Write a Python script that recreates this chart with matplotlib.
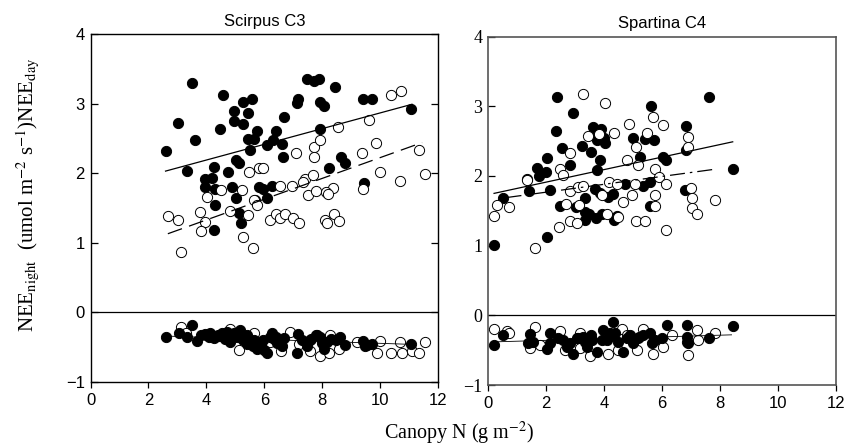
import numpy as np
import matplotlib
matplotlib.use("Agg")
import matplotlib.pyplot as plt

plt.rcParams['mathtext.fontset'] = 'stix'

# Scirpus C3 - daytime NEE (closed = filled circles, open = open circles)
sc_day_closed_x = [3.51, 3.03, 2.59, 3.34, 3.62, 4.57, 4.46, 4.97, 4.97, 5.27, 5.27, 5.59, 5.45, 5.75, 5.43,
                   5.64, 5.50, 6.10, 6.31, 6.42, 6.62, 6.67, 6.63, 7.13, 7.17, 7.46, 7.73, 7.89, 8.43, 7.92,
                   8.05, 7.92, 9.41, 9.72, 11.07, 8.65, 8.77, 8.23, 9.44, 5.02, 5.13, 4.26, 4.74, 3.94, 4.21,
                   3.96, 4.30, 4.89, 5.04, 4.30, 5.11, 5.18, 4.28, 5.68, 5.82, 5.96, 6.10, 6.28]
sc_day_closed_y = [3.30, 2.72, 2.32, 2.03, 2.48, 3.13, 2.64, 2.89, 2.75, 2.70, 3.02, 3.07, 2.87, 2.61, 2.49,
                   2.49, 2.34, 2.40, 2.48, 2.60, 2.42, 2.81, 2.23, 3.01, 3.06, 3.35, 3.33, 3.36, 3.24, 3.02,
                   2.96, 2.63, 3.07, 3.07, 2.92, 2.23, 2.14, 2.07, 1.86, 2.19, 2.15, 2.09, 2.01, 1.91, 1.93,
                   1.80, 1.77, 1.80, 1.64, 1.54, 1.43, 1.28, 1.19, 1.61, 1.80, 1.77, 1.64, 1.82]
sc_day_open_x = [2.67, 3.01, 3.77, 3.94, 3.80, 4.03, 4.51, 4.83, 5.24, 5.47, 5.81, 5.96, 5.43, 5.64, 5.75,
                 5.27, 5.60, 3.13, 6.19, 6.39, 6.54, 6.54, 6.73, 6.96, 7.00, 7.19, 7.10, 7.42, 7.69, 7.32,
                 7.50, 7.77, 7.73, 7.71, 7.94, 8.38, 8.12, 8.20, 8.11, 8.15, 8.40, 8.57, 8.54, 9.41, 9.38,
                 9.61, 9.87, 9.99, 10.36, 10.72, 10.70, 11.33, 11.56]
sc_day_open_y = [1.39, 1.33, 1.44, 1.30, 1.17, 1.66, 1.76, 1.46, 1.76, 2.02, 2.07, 2.08, 1.40, 1.62, 1.54,
                 1.08, 0.93, 0.87, 1.33, 1.42, 1.81, 1.36, 1.42, 1.81, 1.35, 1.29, 2.29, 1.92, 1.97, 1.87,
                 1.68, 1.74, 2.37, 2.23, 2.48, 1.79, 1.73, 1.70, 1.33, 1.28, 1.41, 1.31, 2.67, 1.78, 2.29,
                 2.76, 2.44, 2.02, 3.12, 3.18, 1.89, 2.33, 1.99]

# Scirpus C3 - nighttime NEE
sc_night_closed_x = [2.62, 3.05, 3.34, 3.51, 3.66, 3.97, 4.1, 4.26, 4.4, 4.55, 4.65, 4.83, 4.95, 5.05, 5.16,
                     5.25, 5.29, 5.4, 5.52, 5.6, 5.75, 5.85, 5.95, 6.10, 6.2, 6.27, 6.35, 6.44, 6.55, 6.67,
                     7.13, 7.16, 7.3, 7.48, 7.6, 7.8, 7.94, 8.06, 8.17, 8.3, 8.63, 8.80, 9.41, 9.55, 9.72, 11.07,
                     3.80, 4.14, 4.43, 4.72, 5.06, 5.41, 5.64, 5.87, 5.98, 6.39, 6.62, 7.59, 7.83, 8.00, 8.46,
                     9.49]
sc_night_closed_y = [-0.35, -0.30, -0.36, -0.18, -0.41, -0.31, -0.35, -0.37, -0.33, -0.30, -0.38, -0.42,
                     -0.30, -0.36, -0.25, -0.40, -0.37, -0.45, -0.44, -0.48, -0.52, -0.46, -0.40, -0.59,
                     -0.35, -0.29, -0.38, -0.44, -0.40, -0.37, -0.59, -0.31, -0.40, -0.49, -0.38, -0.33,
                     -0.35, -0.53, -0.42, -0.38, -0.36, -0.47, -0.41, -0.47, -0.45, -0.45,
                     -0.33, -0.30, -0.34, -0.28, -0.30, -0.32, -0.40, -0.47, -0.54, -0.35, -0.49, -0.40,
                     -0.32, -0.44, -0.40, -0.49]
sc_night_open_x = [3.11, 3.3, 4.0, 4.83, 5.12, 5.64, 5.9, 6.21, 6.56, 6.90, 7.2, 7.59, 7.94, 8.23, 8.26,
                   8.57, 9.2, 9.90, 9.99, 10.36, 10.70, 10.76, 11.10, 11.33, 11.56]
sc_night_open_y = [-0.21, -0.30, -0.33, -0.24, -0.54, -0.30, -0.48, -0.42, -0.56, -0.28, -0.45, -0.56,
                   -0.63, -0.59, -0.32, -0.52, -0.42, -0.59, -0.41, -0.59, -0.42, -0.58, -0.56, -0.59, -0.43]

# Scirpus fitted lines (end points)
sc_fit_closed_x = [2.59, 11.1]
sc_fit_closed_y = [2.03, 2.99]
sc_fit_open_x = [2.67, 11.45]
sc_fit_open_y = [1.13, 2.44]
sc_fit_night_x = [2.6, 11.1]
sc_fit_night_y = [-0.34, -0.46]

# Spartina C4 - daytime NEE
sp_day_closed_x = [0.21, 0.51, 1.40, 1.36, 1.68, 2.05, 2.00, 2.14, 2.05, 2.39, 2.34, 2.57, 2.83, 2.94, 3.24,
                   2.48, 3.03, 3.34, 3.34, 3.34, 3.63, 3.91, 3.75, 4.05, 3.86, 3.75, 3.69, 3.86, 3.72, 3.92,
                   4.32, 4.34, 4.72, 5.01, 5.24, 5.33, 5.59, 5.41, 5.72, 5.61, 5.59, 6.05, 6.14, 6.83, 6.83,
                   6.79, 7.63, 8.44, 4.00, 3.80, 4.15, 3.50, 4.45, 1.75, 3.55]
sp_day_closed_y = [1.01, 1.68, 1.78, 1.96, 2.11, 2.26, 2.05, 1.80, 1.13, 3.14, 2.64, 2.40, 2.16, 2.91, 2.43,
                   1.57, 1.55, 1.68, 1.48, 1.37, 2.70, 2.68, 2.51, 2.48, 2.23, 2.08, 1.81, 1.75, 1.40, 1.45,
                   1.74, 1.37, 1.89, 2.55, 2.27, 1.85, 1.91, 2.53, 2.51, 3.00, 1.57, 2.27, 2.23, 2.71, 2.37,
                   1.80, 3.14, 2.10, 2.55, 2.62, 1.70, 1.45, 1.42, 2.00, 2.35]
sp_day_open_x = [0.21, 0.32, 0.74, 1.36, 1.63, 2.46, 2.48, 2.60, 2.83, 2.83, 2.83, 2.69, 3.08, 3.11, 3.29,
                 3.15, 3.26, 3.46, 3.84, 3.93, 4.05, 4.11, 4.34, 4.18, 4.44, 4.49, 4.64, 4.78, 4.87, 4.97,
                 5.07, 5.10, 5.18, 5.09, 5.41, 5.49, 5.70, 5.76, 5.76, 5.76, 5.91, 6.05, 6.14, 6.14, 6.91,
                 6.91, 6.99, 7.02, 7.02, 7.22, 7.84]
sp_day_open_y = [1.43, 1.59, 1.56, 1.94, 0.97, 1.27, 2.10, 2.02, 2.33, 1.79, 1.36, 1.60, 1.32, 1.84, 1.85,
                 1.59, 3.18, 2.58, 2.60, 1.72, 3.04, 1.45, 2.61, 1.92, 1.89, 1.41, 1.62, 2.23, 2.74, 1.72,
                 1.89, 2.42, 2.15, 1.35, 1.35, 2.61, 2.85, 1.72, 1.57, 2.10, 1.99, 2.73, 1.88, 1.22, 2.56,
                 2.42, 1.83, 1.69, 1.54, 1.46, 1.65]

# Spartina C4 - nighttime NEE
sp_night_closed_x = [0.21, 0.51, 1.45, 1.56, 2.02, 2.14, 2.43, 2.6, 2.83, 2.94, 3.1, 3.29, 3.40, 3.6, 3.75,
                     3.98, 4.09, 4.2, 4.32, 4.38, 4.67, 4.78, 5.01, 5.2, 5.36, 5.64, 5.99, 6.16, 6.85, 6.85,
                     6.91, 7.63, 8.44,
                     3.06, 3.34, 3.57, 3.92, 4.21, 4.49, 4.90, 5.18, 5.59, 5.76, 2.71, 1.39, 2.14, 6.85]
sp_night_closed_y = [-0.43, -0.28, -0.27, -0.38, -0.49, -0.26, -0.33, -0.36, -0.40, -0.55, -0.33, -0.31,
                     -0.45, -0.36, -0.52, -0.21, -0.35, -0.30, -0.09, -0.26, -0.52, -0.33, -0.40, -0.31,
                     -0.28, -0.40, -0.33, -0.14, -0.14, -0.31, -0.40, -0.33, -0.15,
                     -0.33, -0.38, -0.28, -0.35, -0.26, -0.38, -0.28, -0.33, -0.26, -0.35, -0.45, -0.40,
                     -0.40, -0.38]
sp_night_open_x = [0.21, 0.65, 0.74, 1.45, 1.63, 1.80, 2.48, 2.66, 3.17, 3.17, 3.52, 4.15, 4.49, 4.61, 4.78,
                   5.13, 5.36, 5.70, 6.05, 6.33, 6.91, 7.20, 7.25, 7.83]
sp_night_open_y = [-0.20, -0.22, -0.26, -0.47, -0.17, -0.43, -0.23, -0.50, -0.26, -0.47, -0.59, -0.55,
                   -0.50, -0.19, -0.28, -0.50, -0.19, -0.55, -0.45, -0.28, -0.57, -0.21, -0.35, -0.26]

sp_fit_closed_x = [0.21, 8.44]
sp_fit_closed_y = [1.75, 2.49]
sp_fit_open_x = [0.64, 7.89]
sp_fit_open_y = [1.69, 2.10]
sp_fit_night_x = [0.3, 8.4]
sp_fit_night_y = [-0.38, -0.28]

x_ticks = [0, 2, 4, 6, 8, 10, 12]
y_ticks = [-1, 0, 1, 2, 3, 4]

fig = plt.figure(figsize=(8.46, 4.45), dpi=100)
ax1 = fig.add_axes([0.107, 0.1416, 0.4108, 0.782])
ax2 = fig.add_axes([0.5768, 0.1348, 0.4113, 0.783])

ms = 54
sans = 'Liberation Sans'
serif = 'Liberation Serif'


def draw_panel(ax, cx, cy, ox, oy, ncx, ncy, nox, noy, fits):
    ax.axhline(0, color='black', lw=0.9, zorder=1)
    ax.scatter(cx, cy, s=ms, facecolor='black', edgecolor='black', lw=0.7, zorder=3)
    ax.scatter(ox, oy, s=ms, facecolor='white', edgecolor='black', lw=0.7, zorder=3)
    ax.scatter(nox, noy, s=ms, facecolor='white', edgecolor='black', lw=0.7, zorder=3)
    ax.scatter(ncx, ncy, s=ms, facecolor='black', edgecolor='black', lw=0.7, zorder=3)
    for fx, fy, style in fits:
        kw = {'color': 'black', 'lw': 0.9, 'zorder': 4}
        kw.update(style)
        ax.plot(fx, fy, **kw)
    ax.set_xlim(0, 12)
    ax.set_ylim(-1, 4)
    ax.set_xticks(x_ticks)
    ax.set_yticks(y_ticks)
    ax.tick_params(axis='x', direction='out', length=4, width=0.9, labelsize=12, pad=4)
    ax.tick_params(axis='y', direction='in', length=5, width=0.9, labelsize=12, pad=4)


draw_panel(ax1, sc_day_closed_x, sc_day_closed_y, sc_day_open_x, sc_day_open_y,
           sc_night_closed_x, sc_night_closed_y, sc_night_open_x, sc_night_open_y,
           [(sc_fit_closed_x, sc_fit_closed_y, {}),
            (sc_fit_open_x, sc_fit_open_y, {'dashes': (12, 6)}),
            (sc_fit_night_x, sc_fit_night_y, {'lw': 0.6})])
draw_panel(ax2, sp_day_closed_x, sp_day_closed_y, sp_day_open_x, sp_day_open_y,
           sp_night_closed_x, sp_night_closed_y, sp_night_open_x, sp_night_open_y,
           [(sp_fit_closed_x, sp_fit_closed_y, {}),
            (sp_fit_open_x, sp_fit_open_y, {'dashes': (12, 4, 2, 4)}),
            (sp_fit_night_x, sp_fit_night_y, {'lw': 0.6})])

ax1.tick_params(axis='y', right=True, direction='in')
for lab in ax1.get_xticklabels() + ax1.get_yticklabels():
    lab.set_fontfamily(sans)
for lab in ax2.get_xticklabels():
    lab.set_fontfamily(sans)
for lab in ax2.get_yticklabels():
    lab.set_fontfamily(serif)
    lab.set_fontsize(13)
for sp in ax2.spines.values():
    sp.set_color('#555555')
    sp.set_linewidth(1.2)
for sp in ax1.spines.values():
    sp.set_linewidth(1.0)

ax1.set_title('Scirpus C3', fontfamily=sans, fontsize=12, pad=6)
ax2.set_title('Spartina C4', fontfamily=sans, fontsize=12, pad=6)

fig.text(0.032, 0.562, r'NEE$_{\mathrm{night}}$  (umol m$^{-2}$ s$^{-1}$)NEE$_{\mathrm{day}}$',
         rotation=90, ha='center', va='center', fontfamily=serif, fontsize=15)
fig.text(0.543, 0.027, r'Canopy N (g m$^{-2}$)', ha='center', va='center',
         fontfamily=serif, fontsize=14.5)

fig.savefig('out.png', dpi=100)
